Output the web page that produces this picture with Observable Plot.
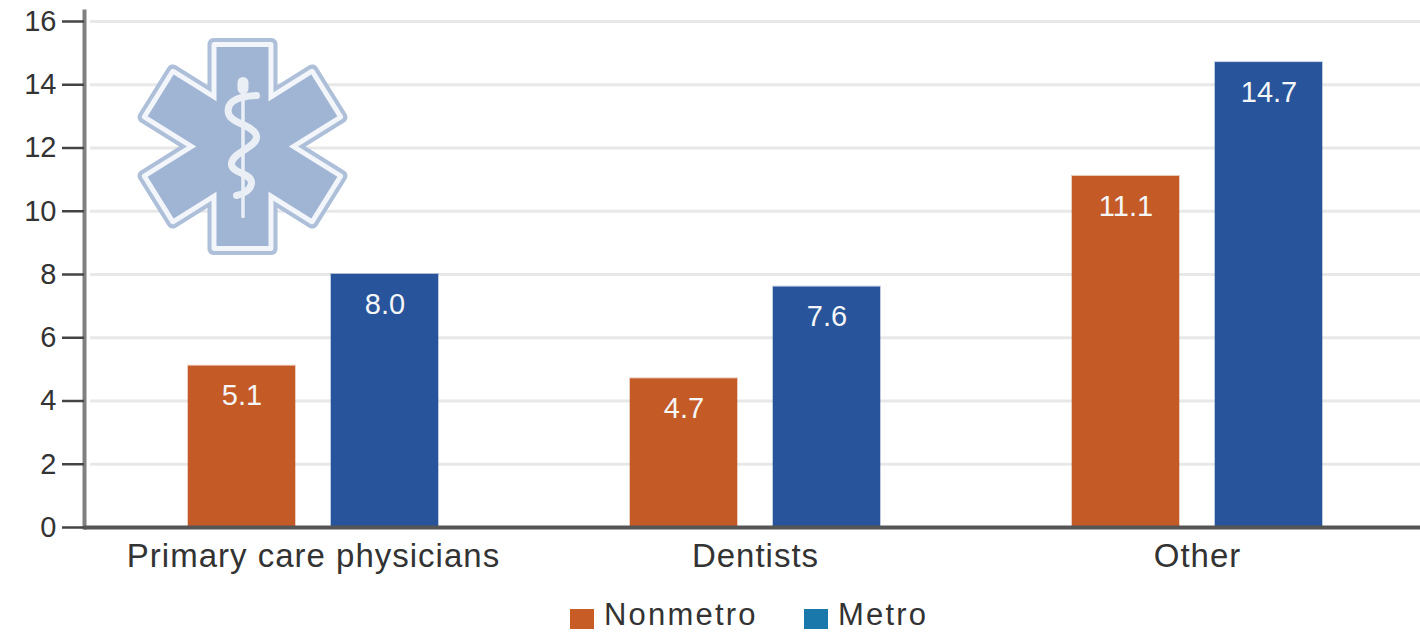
<!DOCTYPE html>
<html>
<head>
<meta charset="utf-8">
<script src="https://cdn.jsdelivr.net/npm/d3@7"></script>
<script src="https://cdn.jsdelivr.net/npm/@observablehq/plot@0.6"></script>
<style>
  html, body { margin: 0; padding: 0; background: #fff; }
  body { font-family: "Liberation Sans", Arial, sans-serif; color: #333; width: 1420px; overflow: hidden; }
  #legend { position: relative; height: 42px; font-size: 31px; letter-spacing: 2.200px; }
  #legend span { position: absolute; top: 12px; height: 26px; line-height: 26px; white-space: nowrap; }
  #legend i { position: absolute; top: 19px; width: 24px; height: 20px; }
  g[aria-label="x-axis tick label"] text { letter-spacing: 1px; }
</style>
</head>
<body>
<div id="chart"></div>
<div id="legend"></div>
<script>
const categories = ["Primary care physicians", "Dentists", "Other"];
const seriesNames = ["Nonmetro", "Metro"];
const nonmetroValues = [5.1, 4.7, 11.1];
const metroValues = [8.0, 7.6, 14.7];
const yTicks = [0, 2, 4, 6, 8, 10, 12, 14, 16];

const barColors = ["#c45b27", "#27549a"];
const swatchColors = ["#c75c27", "#1a78aa"];
const legendLeft = [[570, 604], [804, 838]];

const nonmetroRows = categories.map((category, i) => ({category, value: nonmetroValues[i]}));
const metroRows = categories.map((category, i) => ({category, value: metroValues[i]}));

// Each category band holds a pair of bars, set apart by insets inside the band.
const barPair = (rows, color, insetLeft, insetRight, labelShift) => [
  Plot.barY(rows, {
    x: "category", y: "value", fill: color, stroke: color,
    strokeOpacity: 0.3, strokeWidth: 2, insetLeft, insetRight
  }),
  Plot.text(rows, {
    x: "category", y: "value", text: d => d.value.toFixed(1),
    fill: "#f4f6f8", fontSize: 29, dx: labelShift, dy: 30
  })
];

// Star of life emblem: an upright bar and two slanted bars, layered outline / gap / fill,
// with the rod and serpent on top.
const armLayer = (inset, r, fill) =>
  [[0, 70, 217], [58, 67, 211], [-58, 67, 211]].map(([a, w, h]) => {
    const iw = w - inset, ih = h - inset;
    return `<rect x="${122 - iw / 2}" y="${126 - ih / 2}" width="${iw}" height="${ih}" rx="${r}" fill="${fill}" transform="rotate(${a} 122 126)"/>`;
  }).join("");
const emblem = `<svg xmlns="http://www.w3.org/2000/svg" viewBox="0 0 250 250" width="250" height="250">
  ${armLayer(0, 6, "#adbfd9")}
  ${armLayer(8, 3, "#f2f5f9")}
  ${armLayer(18, 0, "#a0b4d3")}
  <g fill="none" stroke="#eaeff6" stroke-linecap="round">
    <path d="M122.500 62 V196" stroke-width="3.500"/>
    <path d="M122.500 62 V68" stroke-width="11"/>
    <path d="M136 75 C112 76 106 84 108 93 C110 103 135 105 136 116 C137 127 112 131 111 143 C110 153 132 152 131 163 C130 170 122 174 116 175" stroke-width="7"/>
  </g>
</svg>`;

const chart = Plot.plot({
  width: 1420,
  height: 590,
  marginLeft: 84,
  marginRight: 0,
  marginTop: 21,
  marginBottom: 63,
  style: {fontFamily: "Liberation Sans, Arial, sans-serif", color: "#333", background: "#fff"},
  x: {domain: categories, range: [92, 1418], padding: 0, label: null},
  y: {domain: [0, 16], label: null},
  marks: [
    Plot.ruleY(yTicks.slice(1), {stroke: "#e8e8e8", strokeWidth: 3, insetLeft: 6}),
    barPair(nonmetroRows, barColors[0], 96, 239, -71.500),
    barPair(metroRows, barColors[1], 239, 96, 71.500),
    Plot.frame({anchor: "left", stroke: "#808080", strokeWidth: 4, insetTop: -10}),
    Plot.ruleY([0], {stroke: "#555", strokeWidth: 4}),
    Plot.axisY({
      ticks: yTicks, tickSize: 22, tickPadding: 6, fontSize: 29,
      stroke: "#444", strokeWidth: 2.500, label: null, tickFormat: d => d, fill: "#333"
    }),
    Plot.axisX({tickSize: 0, tickPadding: 16, fontSize: 33, fill: "#333", label: null, lineWidth: 30, marginBottom: 63}),
    Plot.image([emblem], {
      src: svg => "data:image/svg+xml;utf8," + encodeURIComponent(svg),
      frameAnchor: "top-left", width: 250, height: 250, dx: 161, dy: 124,
      style: "mix-blend-mode:multiply"
    })
  ]
});
document.getElementById("chart").appendChild(chart);
chart.style.display = "block";

const legend = document.getElementById("legend");
seriesNames.forEach((name, i) => {
  const swatch = document.createElement("i");
  swatch.style.left = legendLeft[i][0] + "px";
  swatch.style.background = swatchColors[i];
  const label = document.createElement("span");
  label.style.left = legendLeft[i][1] + "px";
  label.textContent = name;
  legend.append(swatch, label);
});
</script>
</body>
</html>
